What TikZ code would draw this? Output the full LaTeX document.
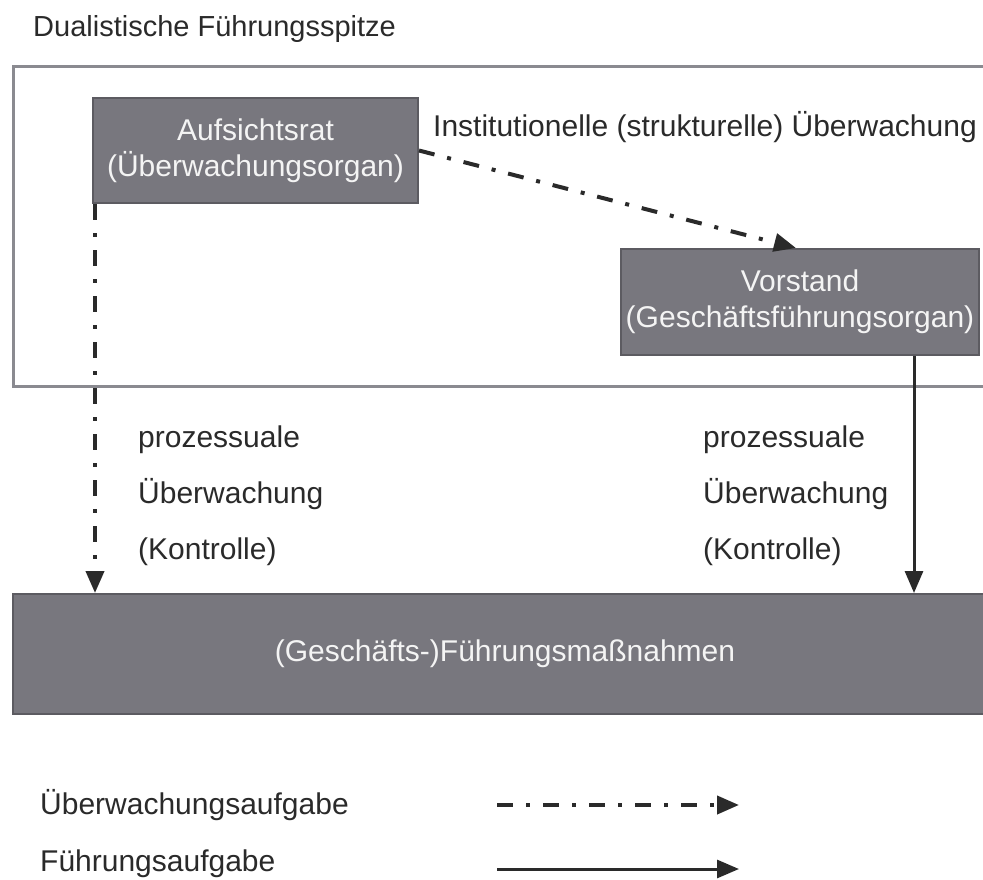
\documentclass[tikz,border=0pt]{standalone}
\usepackage{fontspec}
\setmainfont{Liberation Sans}
\usetikzlibrary{arrows.meta}
\definecolor{boxfill}{HTML}{78777E}
\definecolor{boxline}{HTML}{5C5B61}
\definecolor{boxtext}{HTML}{F4F4F4}
\definecolor{ink}{HTML}{2A2A2A}
\definecolor{framecol}{HTML}{8A8A90}
\tikzset{
  txt/.style={font=\fontsize{30}{34}\selectfont, text=ink, inner sep=0pt},
  organ/.style={draw=boxline, line width=2pt, fill=boxfill, text=boxtext,
    font=\fontsize{30}{36}\selectfont, align=center, inner sep=0pt, anchor=north west},
  outerframe/.style={draw=framecol, line width=3pt, anchor=north west, inner sep=0pt},
  tip/.style={-{Triangle[length=22pt,width=18pt]}},
  supervise/.style={tip, draw=ink, line width=4pt,
    dash pattern=on 16pt off 13pt on 4pt off 13pt},
  lead/.style={tip, draw=ink, line width=3pt},
}
\begin{document}
\begin{tikzpicture}[x=1pt,y=-1pt]
\useasboundingbox (0,0) rectangle (983,880);
\clip (0,0) rectangle (983,880);
\node[txt, font=\fontsize{29}{34}\selectfont, anchor=base west] (title) at (33,37) {Dualistische Führungsspitze};
\node[outerframe, minimum width=990pt, minimum height=320pt] (frame) at (12,65) {};
\node[organ, minimum width=325pt, minimum height=105pt] (auf) at (92,97)
  {Aufsichtsrat\\(Überwachungsorgan)};
\node[organ, minimum width=358pt, minimum height=106pt] (vor) at (620,248)
  {Vorstand\\(Geschäftsführungsorgan)};
\node[organ, minimum width=990pt, minimum height=120pt] (mass) at (12,593)
  {\hspace*{-6pt}(Geschäfts-)Führungsmaßnahmen};
\node[txt, anchor=base west] (inst) at (433,137) {Institutionelle (strukturelle) Überwachung};
% left labels
\node[txt, anchor=base west] (lp1) at (138,447) {prozessuale};
\node[txt, anchor=base west] (lp2) at (138,503) {Überwachung};
\node[txt, anchor=base west] (lp3) at (138,559) {(Kontrolle)};
% right labels
\node[txt, anchor=base west] (rp1) at (703,447) {prozessuale};
\node[txt, anchor=base west] (rp2) at (703,503) {Überwachung};
\node[txt, anchor=base west] (rp3) at (703,559) {(Kontrolle)};
% connectors
\draw[supervise] (auf.east) -- ([xshift=-4pt]vor.north);
\draw[supervise] ([xshift=3pt]auf.south west) -- ([xshift=3pt]auf.south west |- mass.north);
\draw[lead] ([xshift=-66pt]vor.south east) -- ([xshift=-66pt]vor.south east |- mass.north);
% legend
\node[txt, anchor=base west] (leg1) at (40,814) {Überwachungsaufgabe};
\node[txt, anchor=base west] (leg2) at (40,871) {Führungsaufgabe};
\coordinate (l1s) at (497,805);
\coordinate (l1e) at (739,805);
\coordinate (l2s) at (497,869);
\coordinate (l2e) at (739,869);
\draw[supervise] (l1s) -- (l1e);
\draw[lead] (l2s) -- (l2e);
\end{tikzpicture}
\end{document}
